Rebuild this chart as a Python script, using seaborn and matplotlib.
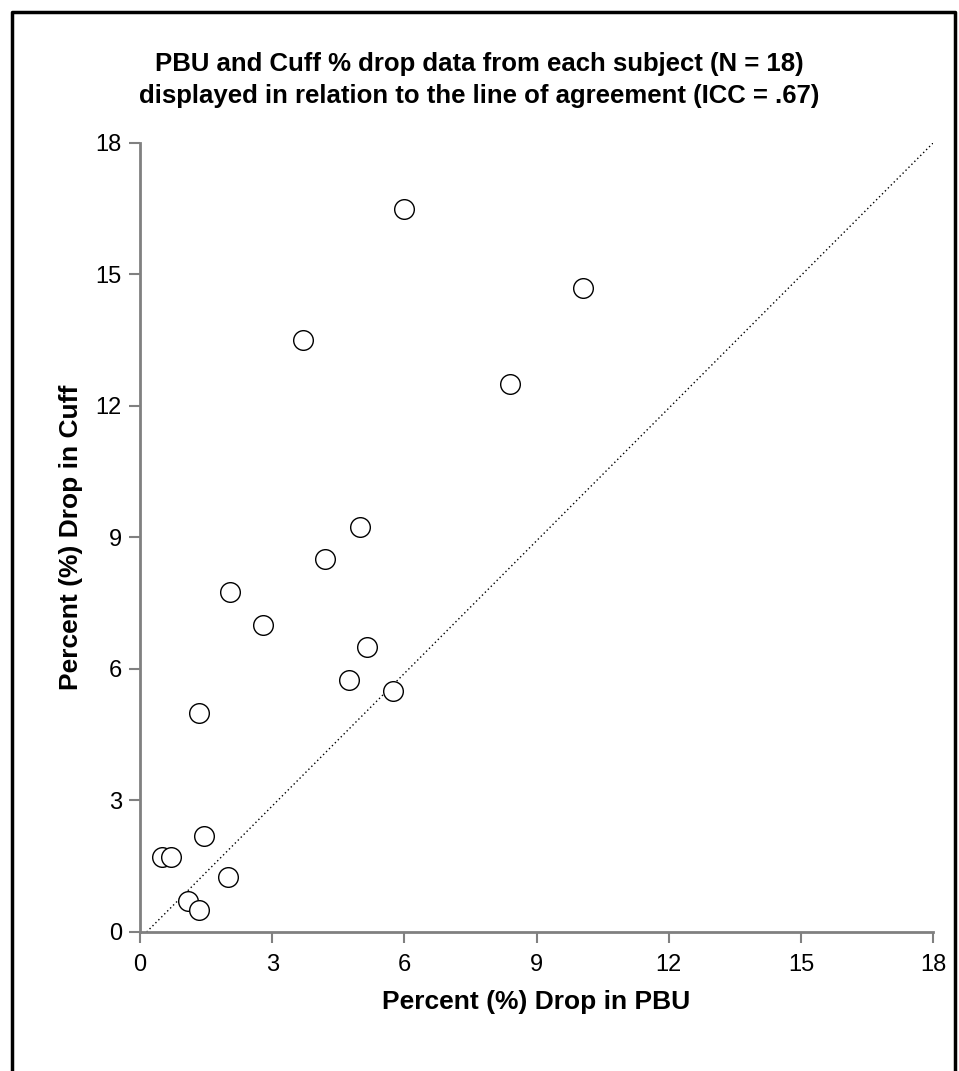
import matplotlib
matplotlib.use("Agg")
import matplotlib.pyplot as plt
import seaborn as sns
import pandas as pd
from matplotlib.lines import Line2D

# % drop per subject
pbu_drop = [6.0, 10.05, 3.7, 8.4, 5.0, 4.2, 2.05, 2.8, 5.15, 4.75, 5.75, 1.35,
            1.45, 0.5, 0.7, 2.0, 1.1, 1.35]
cuff_drop = [16.5, 14.7, 13.5, 12.5, 9.25, 8.5, 7.75, 7.0, 6.5, 5.75, 5.5, 5.0,
             2.2, 1.7, 1.7, 1.25, 0.7, 0.5]

# line of agreement end points
agree_x = [0.15, 18]
agree_y = [0, 18]

ticks = [0, 3, 6, 9, 12, 15, 18]

df = pd.DataFrame({'pbu': pbu_drop, 'cuff': cuff_drop})

sns.set_style('white')
plt.rcParams['font.family'] = ['Liberation Sans', 'DejaVu Sans']
plt.rcParams['text.color'] = 'black'
plt.rcParams['axes.labelcolor'] = 'black'
plt.rcParams['xtick.color'] = 'black'
plt.rcParams['ytick.color'] = 'black'

fig = plt.figure(figsize=(9.59, 10.71), dpi=100)
ax = fig.add_axes([0.146, 0.1298, 0.827, 0.7367])

ax.plot(agree_x, agree_y, color='black', linestyle=(0, (1, 2)), linewidth=1.0, zorder=1)
sns.scatterplot(data=df, x='pbu', y='cuff', ax=ax, s=200, facecolor='white',
                edgecolor='black', linewidth=1.0, zorder=3, clip_on=False)

ax.set_xlim(0, 18)
ax.set_ylim(0, 18)
ax.set_xticks(ticks)
ax.set_yticks(ticks)
ax.tick_params(axis='both', bottom=True, left=True, direction='out', length=8,
               width=1.5, color='#808080', labelcolor='black', labelsize=17)
ax.tick_params(axis='x', pad=8)
ax.tick_params(axis='y', pad=5)

for side in ['top', 'right']:
    ax.spines[side].set_visible(False)
for side in ['left', 'bottom']:
    ax.spines[side].set_color('#808080')
    ax.spines[side].set_linewidth(2)

ax.set_xlabel('Percent (%) Drop in PBU', fontsize=19, fontweight='bold', labelpad=10)
ax.set_ylabel('Percent (%) Drop in Cuff', fontsize=19, fontweight='bold', labelpad=9)

fig.text(0.5, 0.9255, 'PBU and Cuff % drop data from each subject (N = 18)\n'
         'displayed in relation to the line of agreement (ICC = .67)',
         ha='center', va='center', fontsize=18.5, fontweight='bold', linespacing=1.4)

# outer frame (open at the bottom)
frame_x = [12 / 959, 12 / 959, 955 / 959, 955 / 959]
frame_y = [0, 1 - 12 / 1071, 1 - 12 / 1071, 0]
fig.add_artist(Line2D(frame_x, frame_y, transform=fig.transFigure,
                      color='black', linewidth=2.5))

fig.savefig('out.png', dpi=100)
